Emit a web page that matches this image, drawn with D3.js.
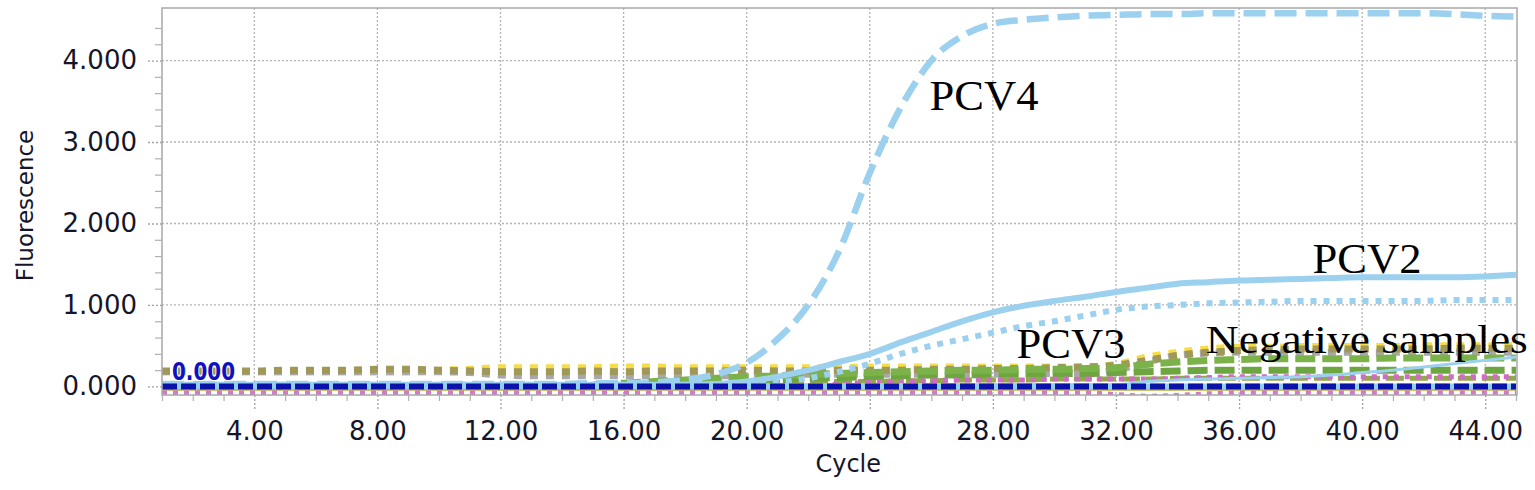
<!DOCTYPE html>
<html>
<head>
<meta charset="utf-8">
<script src="https://cdn.jsdelivr.net/npm/d3@7"></script>
<style>
    body { margin: 0; background: #fff; }
    #chart-area { width: 1535px; height: 490px; }
    .axis text { font-family: "DejaVu Sans", Verdana, sans-serif; font-size: 26px; fill: #15152a; }
    .axis path.domain { display: none; }
    .curve { fill: none; stroke-linejoin: round; }
    .pcv-label { font-family: "Liberation Serif", "Times New Roman", serif; fill: #000; }
    .axis-title { font-family: "DejaVu Sans", Verdana, sans-serif; fill: #15152a; }
</style>
</head>
<body>
<div id="chart-area"></div>
<script>

// ---- data ----
const cycles = [1,2,3,4,5,6,7,8,9,10,11,12,13,14,15,16,17,18,19,20,21,22,23,24,25,26,27,28,29,30,31,32,33,34,35,36,37,38,39,40,41,42,43,44,45];

const pcv4 = [0.03,0.03,0.03,0.03,0.03,0.03,0.03,0.03,0.03,0.03,0.03,0.03,0.03,0.03,0.04,0.04,0.05,0.08,0.15,0.29,
    0.58,1.00,1.66,2.62,3.42,4.00,4.30,4.45,4.50,4.53,4.55,4.56,4.57,4.57,4.58,4.58,4.58,4.58,4.58,4.58,
    4.58,4.58,4.57,4.55,4.54];

const pcv2 = [0.02,0.02,0.02,0.02,0.02,0.02,0.02,0.02,0.02,0.02,0.02,0.02,0.02,0.02,0.02,0.02,0.02,0.02,0.03,0.06,
    0.12,0.20,0.30,0.40,0.54,0.67,0.80,0.91,0.99,1.05,1.10,1.16,1.21,1.26,1.28,1.30,1.31,1.32,1.33,1.34,
    1.34,1.34,1.34,1.35,1.37];

const pcv3 = [0.02,0.02,0.02,0.02,0.02,0.02,0.02,0.02,0.02,0.02,0.02,0.02,0.02,0.02,0.02,0.02,0.02,0.02,0.02,0.02,
    0.05,0.10,0.18,0.28,0.40,0.50,0.58,0.66,0.74,0.80,0.87,0.94,0.98,1.00,1.02,1.03,1.04,1.05,1.05,1.05,
    1.05,1.05,1.06,1.06,1.06];

// negative samples
const negKhaki = [0.19,0.19,0.19,0.19,0.20,0.20,0.20,0.21,0.21,0.20,0.19,0.18,0.18,0.18,0.19,0.18,0.19,0.19,0.19,0.20,
    0.19,0.19,0.20,0.20,0.20,0.21,0.21,0.22,0.22,0.23,0.24,0.26,0.32,0.38,0.42,0.44,0.45,0.46,0.46,0.46,
    0.46,0.46,0.47,0.47,0.47];

const negYellow = [0.18,0.18,0.18,0.18,0.18,0.18,0.18,0.18,0.18,0.20,0.21,0.23,0.23,0.23,0.23,0.24,0.24,0.23,0.23,0.23,
    0.23,0.23,0.23,0.24,0.24,0.24,0.24,0.24,0.24,0.24,0.24,0.27,0.36,0.42,0.46,0.48,0.48,0.49,0.49,0.49,
    0.49,0.50,0.50,0.50,0.50];

const negGray = [0.18,0.18,0.18,0.18,0.18,0.18,0.18,0.18,0.18,0.18,0.17,0.14,0.13,0.13,0.13,0.13,0.13,0.13,0.13,0.13,
    0.14,0.15,0.15,0.15,0.15,0.15,0.15,0.15,0.16,0.16,0.17,0.20,0.30,0.38,0.41,0.42,0.42,0.42,0.42,0.42,
    0.42,0.42,0.42,0.42,0.42];

const negGreenA = [0,0,0,0,0,0,0,0,0,0,0,0,0,0,0.02,0.04,0.06,0.08,0.10,0.12,
    0.13,0.15,0.16,0.17,0.18,0.19,0.20,0.20,0.21,0.21,0.22,0.23,0.27,0.30,0.32,0.33,0.34,0.34,0.34,0.34,
    0.35,0.35,0.35,0.35,0.35];

const negGreenB = [0,0,0,0,0,0,0,0,0,0,0,0,0,0,0,0,0,0,0.03,0.06,
    0.08,0.10,0.11,0.12,0.13,0.14,0.14,0.15,0.15,0.16,0.16,0.17,0.18,0.19,0.20,0.20,0.20,0.20,0.20,0.20,
    0.20,0.20,0.20,0.20,0.20];

const negGreenC = [0.01,0.01,0.01,0.01,0.01,0.01,0.01,0.01,0.01,0.01,0.01,0.01,0.01,0.01,0.01,0.02,0.02,0.03,0.03,0.04,
    0.05,0.05,0.06,0.06,0.07,0.07,0.08,0.08,0.08,0.09,0.09,0.09,0.09,0.10,0.10,0.10,0.10,0.10,0.10,0.10,
    0.10,0.10,0.10,0.10,0.10];

const negPinkA = [-0.08,-0.08,-0.08,-0.08,-0.08,-0.08,-0.08,-0.08,-0.08,-0.08,-0.08,-0.08,-0.08,-0.08,-0.08,-0.08,-0.08,-0.08,-0.08,-0.08,
    -0.08,-0.08,-0.08,-0.08,-0.08,-0.08,-0.08,-0.08,-0.08,-0.08,-0.08,-0.10,-0.12,-0.11,-0.09,-0.08,-0.08,-0.08,-0.08,-0.08,
    -0.08,-0.08,-0.08,-0.08,-0.08];

const negPinkB = [0,0,0,0,0,0,0,0,0,0,0,0,0,0,0,0,0,0,0,0,
    0,0,0.03,0.05,0.06,0.07,0.08,0.08,0.08,0.09,0.09,0.09,0.09,0.10,0.11,0.12,0.12,0.12,0.12,0.12,
    0.12,0.12,0.12,0.12,0.12];

const negBlue = [0.02,0.02,0.02,0.02,0.02,0.02,0.02,0.02,0.02,0.02,0.02,0.02,0.02,0.02,0.02,0.02,0.02,0.02,0.02,0.02,
    0.02,0.02,0.02,0.02,0.02,0.02,0.02,0.02,0.02,0.02,0.02,0.02,0.06,0.08,0.09,0.10,0.11,0.12,0.14,0.17,
    0.20,0.24,0.28,0.32,0.36];

const negGold = [-0.04,-0.04,-0.04,-0.04,-0.04,-0.04,-0.04,-0.04,-0.04,-0.04,-0.04,-0.04,-0.04,-0.04,-0.04,-0.04,-0.04,-0.04,-0.04,-0.04,
    -0.04,-0.04,-0.04,-0.04,-0.04,-0.04,-0.04,-0.04,-0.04,-0.04,-0.04,-0.04,-0.04,-0.04,-0.04,-0.04,-0.04,-0.04,-0.04,-0.04,
    -0.04,-0.04,-0.04,-0.04,-0.04];

const threshold = 0.0;

// tick labels
const yTicks = [0, 1, 2, 3, 4];
const yMinorTicks = [0.2,0.4,0.6,0.8,1.2,1.4,1.6,1.8,2.2,2.4,2.6,2.8,3.2,3.4,3.6,3.8,4.2,4.4];
const xTicks = [4, 8, 12, 16, 20, 24, 28, 32, 36, 40, 44];

// annotation text, placed in data coordinates
const labels = [
    {text: "PCV4", cycle: 25.94, value: 3.39},
    {text: "PCV2", cycle: 38.39, value: 1.39},
    {text: "PCV3", cycle: 28.77, value: 0.35},
    {text: "Negative samples", cycle: 34.92, value: 0.41}
];


class PcrVis {

    constructor(parentElement) {
        this.parentElement = parentElement;

        // drawing order: negatives first, positives on top
        this.series = [
            {values: negGold,   color: "#c8a83c", width: 2,   dash: null},
            {values: negGreenC, color: "#93a84c", width: 5,   dash: "18,6"},
            {values: negPinkA,  color: "#d478c8", width: 5,   dash: "5,6"},
            {values: negYellow, color: "#f6dc46", width: 7,   dash: "8,8"},
            {values: negGray,   color: "#a8a8a8", width: 7,   dash: "8,8"},
            {values: negKhaki,  color: "#a09858", width: 7,   dash: "8,8"},
            {values: negGreenB, color: "#6da641", width: 7,   dash: "20,7"},
            {values: negGreenA, color: "#7cb24a", width: 7,   dash: "20,7"},
            {values: negPinkB,  color: "#cf6cc3", width: 5,   dash: "5,6"},
            {values: negBlue,   color: "#9cd0ef", width: 3,   dash: null},
            {values: pcv3,      color: "#9cd0ef", width: 6,   dash: "6,7"},
            {values: pcv2,      color: "#9cd0ef", width: 6,   dash: null},
            {values: pcv4,      color: "#9cd0ef", width: 6.5, dash: "22,9"}
        ];

        this.initVis();
    }

    initVis() {
        let vis = this;

        vis.margin = {top: 8, right: 18, bottom: 95, left: 162};
        vis.width = 1535 - vis.margin.left - vis.margin.right;
        vis.height = 490 - vis.margin.top - vis.margin.bottom;

        vis.svg = d3.select("#" + vis.parentElement).append("svg")
            .attr("width", vis.width + vis.margin.left + vis.margin.right)
            .attr("height", vis.height + vis.margin.top + vis.margin.bottom)
            .append("g")
            .attr("transform", `translate(${vis.margin.left}, ${vis.margin.top})`);

        vis.svg.append("clipPath")
            .attr("id", "plot-clip")
            .append("rect")
            .attr("width", vis.width)
            .attr("height", vis.height);

        // Scales
        vis.x = d3.scaleLinear()
            .domain([1, 45])
            .range([0, vis.width - 1]);

        vis.y = d3.scaleLinear()
            .domain([-0.105, 4.645])
            .range([vis.height, 0]);

        // dotted grid
        vis.svg.selectAll(".vgrid")
            .data(xTicks)
            .enter()
            .append("line")
            .attr("class", "vgrid")
            .attr("x1", d => vis.x(d))
            .attr("x2", d => vis.x(d))
            .attr("y1", 0)
            .attr("y2", vis.height)
            .attr("stroke", "#b4b4b4")
            .attr("stroke-width", 1.3)
            .attr("stroke-dasharray", "2,2");

        vis.svg.selectAll(".hgrid")
            .data(yTicks)
            .enter()
            .append("line")
            .attr("class", "hgrid")
            .attr("x1", 0)
            .attr("x2", vis.width)
            .attr("y1", d => vis.y(d))
            .attr("y2", d => vis.y(d))
            .attr("stroke", "#b4b4b4")
            .attr("stroke-width", 1.3)
            .attr("stroke-dasharray", "2,2");

        vis.plot = vis.svg.append("g")
            .attr("clip-path", "url(#plot-clip)");

        vis.line = d3.line()
            .curve(d3.curveMonotoneX)
            .x((d, i) => vis.x(cycles[i]))
            .y(d => vis.y(d));

        // plot frame
        vis.svg.append("rect")
            .attr("width", vis.width)
            .attr("height", vis.height)
            .attr("fill", "none")
            .attr("stroke", "#a8a8a8")
            .attr("stroke-width", 1.5);

        // Axes
        vis.yAxis = d3.axisLeft(vis.y)
            .tickValues(yTicks)
            .tickFormat(d3.format(".3f"))
            .tickSize(15)
            .tickPadding(10);

        vis.yMinor = d3.axisLeft(vis.y)
            .tickValues(yMinorTicks)
            .tickFormat("")
            .tickSize(7);

        vis.xAxis = d3.axisBottom(vis.x)
            .tickValues(xTicks)
            .tickFormat(d3.format(".2f"))
            .tickSize(14)
            .tickPadding(13);

        vis.xMinor = d3.axisBottom(vis.x)
            .tickValues(cycles.filter(c => !xTicks.includes(c)))
            .tickFormat("")
            .tickSize(6);

        vis.svg.append("g").attr("class", "y-axis axis");
        vis.svg.append("g").attr("class", "y-minor axis");
        vis.svg.append("g").attr("class", "x-axis axis")
            .attr("transform", `translate(0, ${vis.height})`);
        vis.svg.append("g").attr("class", "x-minor axis")
            .attr("transform", `translate(0, ${vis.height})`);

        // axis titles
        vis.svg.append("text")
            .attr("class", "axis-title")
            .attr("transform", `translate(${33 - vis.margin.left}, ${vis.height / 2 + 4}) rotate(-90)`)
            .attr("text-anchor", "middle")
            .attr("font-size", 23)
            .text("Fluorescence");

        vis.svg.append("text")
            .attr("class", "axis-title")
            .attr("x", vis.x(23.3))
            .attr("y", vis.height + 77)
            .attr("text-anchor", "middle")
            .attr("font-size", 24)
            .text("Cycle");

        vis.wrangleData();
    }

    wrangleData() {
        let vis = this;
        vis.updateVis();
    }

    updateVis() {
        let vis = this;

        vis.plot.selectAll(".curve")
            .data(vis.series)
            .enter()
            .append("path")
            .attr("class", "curve")
            .attr("d", d => vis.line(d.values))
            .attr("stroke", d => d.color)
            .attr("stroke-width", d => d.width)
            .attr("stroke-dasharray", d => d.dash);

        // threshold line: light underlay with navy dashes on top
        vis.plot.append("line")
            .attr("x1", vis.x(cycles[0]))
            .attr("x2", vis.x(cycles[cycles.length - 1]))
            .attr("y1", vis.y(threshold))
            .attr("y2", vis.y(threshold))
            .attr("stroke", "#8fd0f0")
            .attr("stroke-width", 6);

        vis.plot.append("line")
            .attr("x1", vis.x(cycles[0]))
            .attr("x2", vis.x(cycles[cycles.length - 1]))
            .attr("y1", vis.y(threshold))
            .attr("y2", vis.y(threshold))
            .attr("stroke", "#0a12a8")
            .attr("stroke-width", 6)
            .attr("stroke-dasharray", "15,4");

        vis.svg.append("text")
            .attr("x", 10)
            .attr("y", vis.y(threshold) - 6)
            .attr("font-family", "DejaVu Sans, Verdana, sans-serif")
            .attr("font-weight", "bold")
            .attr("font-size", 24)
            .attr("textLength", 63)
            .attr("lengthAdjust", "spacingAndGlyphs")
            .attr("fill", "#1010c0")
            .attr("stroke", "#fff")
            .attr("stroke-width", 2)
            .attr("paint-order", "stroke")
            .text(d3.format(".3f")(threshold));

        // axes
        vis.svg.select(".y-axis").call(vis.yAxis);
        vis.svg.select(".y-minor").call(vis.yMinor);
        vis.svg.select(".x-axis").call(vis.xAxis);
        vis.svg.select(".x-minor").call(vis.xMinor);

        vis.svg.selectAll(".y-axis .tick line, .x-axis .tick line")
            .attr("stroke", "#a0a0a0")
            .attr("stroke-width", 1.3)
            .attr("stroke-dasharray", "2,2");
        vis.svg.selectAll(".y-minor .tick line, .x-minor .tick line")
            .attr("stroke", "#b0b0b0")
            .attr("stroke-width", 1.2);

        // sample labels
        vis.svg.selectAll(".pcv-label")
            .data(labels)
            .enter()
            .append("text")
            .attr("class", "pcv-label")
            .attr("x", d => vis.x(d.cycle))
            .attr("y", d => vis.y(d.value))
            .attr("font-size", d => d.text.length > 4 ? 39 : 42)
            .attr("textLength", d => d.text.length > 4 ? 322 : 109)
            .attr("lengthAdjust", "spacingAndGlyphs")
            .text(d => d.text);
    }
}

new PcrVis("chart-area");
</script>
</body>
</html>
